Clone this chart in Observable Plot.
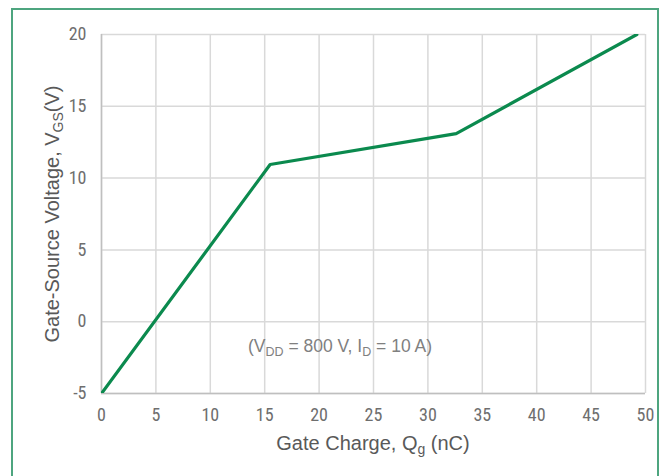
<!DOCTYPE html>
<html>
<head>
<meta charset="utf-8">
<script src="https://cdn.jsdelivr.net/npm/d3@7"></script>
<script src="https://cdn.jsdelivr.net/npm/@observablehq/plot@0.6"></script>
<style>
  html, body { margin: 0; padding: 0; background: #fff; }
  #wrap { position: relative; width: 662px; height: 476px; overflow: hidden; }
  #border { position: absolute; left: 11px; top: 8px; width: 648px; height: 500px; border: 2px solid #4ea57f; box-sizing: border-box; }
  #chart { position: absolute; left: 0; top: 0; }
</style>
</head>
<body>
<div id="wrap"><div id="border"></div><div id="chart"></div></div>
<script>
const gateCharge = [0, 15.5, 32.6, 49.2];
const gateVoltage = [-5, 10.95, 13.1, 20];
const xTicks = [0, 5, 10, 15, 20, 25, 30, 35, 40, 45, 50];
const yTicks = [-5, 0, 5, 10, 15, 20];

const data = gateCharge.map((q, i) => ({q, v: gateVoltage[i]}));

const tickFont = "'Liberation Sans Narrow', 'Roboto Condensed', 'DejaVu Sans Condensed', Roboto, sans-serif";
const titleFont = "'Liberation Sans', Arial, sans-serif";

const plot = Plot.plot({
  width: 662,
  height: 476,
  marginLeft: 101,
  marginRight: 17,
  marginTop: 34,
  marginBottom: 83,
  style: {fontFamily: tickFont, fontSize: "18px", color: "#6e6e6e", background: "transparent"},
  x: {domain: [0, 50], ticks: xTicks, label: null, tickSize: 0, tickPadding: 15, tickFormat: d => String(d)},
  y: {domain: [-5, 20], ticks: yTicks, label: null, tickSize: 0, tickPadding: 15, tickFormat: d => String(d)},
  marks: [
    Plot.gridX(xTicks, {stroke: "#d9d9d9", strokeOpacity: 1, strokeWidth: 1.5}),
    Plot.gridY(yTicks, {stroke: "#d9d9d9", strokeOpacity: 1, strokeWidth: 1.5}),
    Plot.ruleX([0], {stroke: "#bfbfbf", strokeWidth: 1.5}),
    Plot.ruleY([-5], {stroke: "#bfbfbf", strokeWidth: 1.5}),
    Plot.line(data, {x: "q", y: "v", stroke: "#0b8a4e", strokeWidth: 3.2, clip: true})
  ]
});
document.getElementById("chart").appendChild(plot);

const svg = d3.select(plot);
// x-axis title
const xt = svg.append("text")
  .attr("x", 373).attr("y", 450)
  .attr("text-anchor", "middle")
  .style("font-family", titleFont).style("font-size", "20px").attr("fill", "#595959");
xt.append("tspan").text("Gate Charge, Q");
xt.append("tspan").attr("dy", 4).style("font-size", "14px").text("g");
xt.append("tspan").attr("dy", -4).text(" (nC)");

// y-axis title
const yt = svg.append("text")
  .attr("transform", "translate(59,214) rotate(-90)")
  .attr("text-anchor", "middle")
  .style("font-family", titleFont).style("font-size", "20px").attr("fill", "#595959");
yt.append("tspan").text("Gate-Source Voltage, V");
yt.append("tspan").attr("dy", 4).style("font-size", "14px").text("GS");
yt.append("tspan").attr("dy", -4).text("(V)");

// annotation
const an = svg.append("text")
  .attr("x", 340).attr("y", 352)
  .attr("text-anchor", "middle")
  .style("font-family", titleFont).style("font-size", "17.5px").attr("fill", "#808080");
an.append("tspan").text("(V");
an.append("tspan").attr("dy", 4).style("font-size", "12.5px").text("DD");
an.append("tspan").attr("dy", -4).text(" = 800 V, I");
an.append("tspan").attr("dy", 4).style("font-size", "12.5px").text("D");
an.append("tspan").attr("dy", -4).text(" = 10 A)");
</script>
</body>
</html>
